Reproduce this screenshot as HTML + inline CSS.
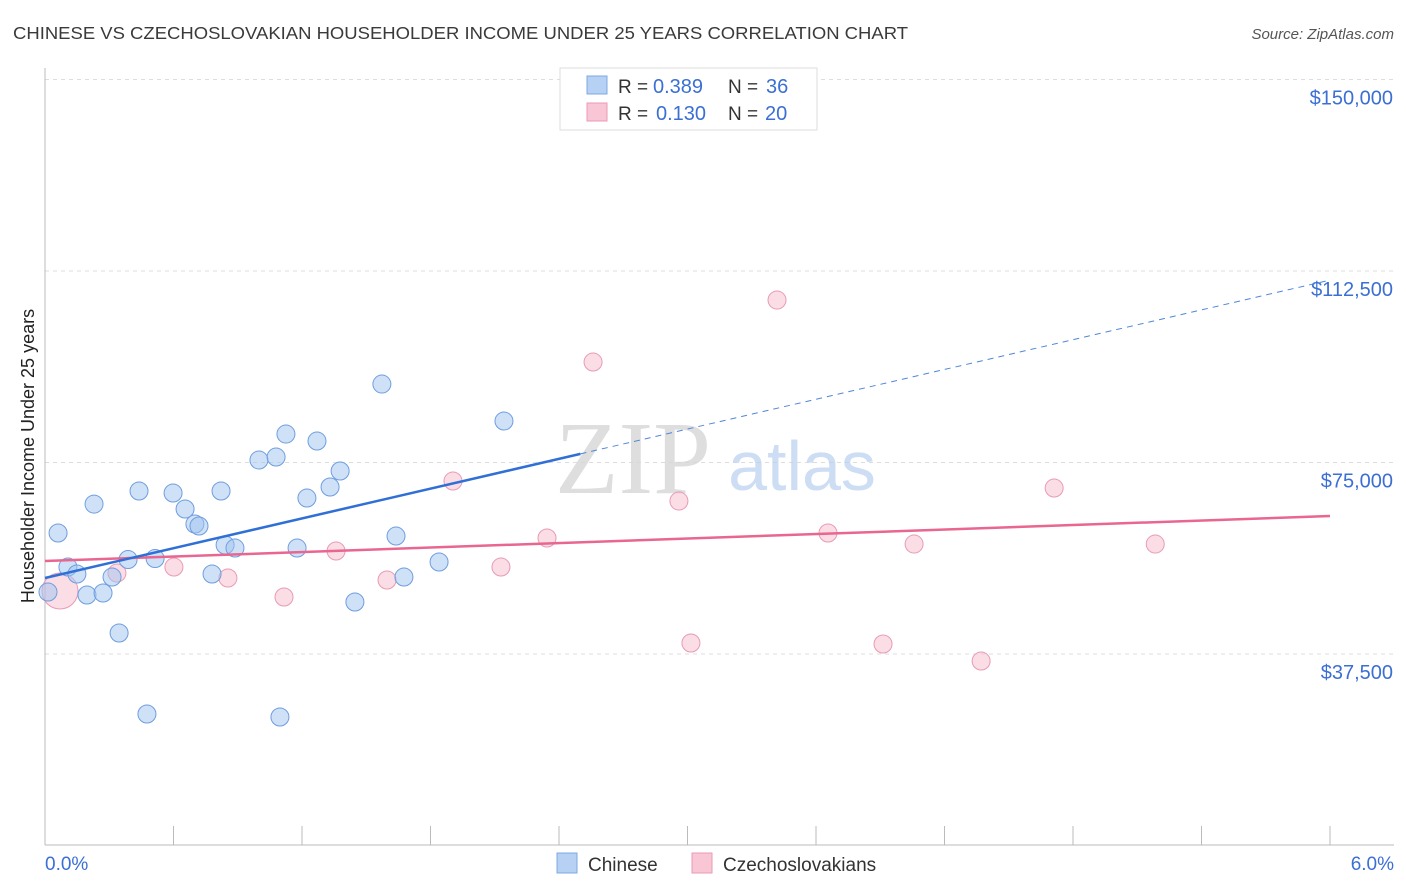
<!DOCTYPE html>
<html><head><meta charset="utf-8"><style>
body{margin:0;background:#fff;font-family:"Liberation Sans",sans-serif;}
svg{display:block}
</style></head><body>
<svg id="chart" width="1406" height="892">
<text x="13" y="39" font-size="17.5" fill="#3a3a3a" textLength="895" lengthAdjust="spacingAndGlyphs">CHINESE VS CZECHOSLOVAKIAN HOUSEHOLDER INCOME UNDER 25 YEARS CORRELATION CHART</text>
<text x="1394" y="39" font-size="15" fill="#555" font-style="italic" text-anchor="end">Source: ZipAtlas.com</text>
<g id="grid"></g>
<g>
<text x="633" y="493" font-size="104" fill="#d6d6d6" font-family="Liberation Serif,serif" text-anchor="middle" opacity="0.8">ZIP</text>
<text x="802" y="490" font-size="70" fill="#b8cfee" text-anchor="middle" opacity="0.7">atlas</text>
</g>
<g id="axes"></g>
<g id="marks"></g>
<g>
<rect x="560" y="68" width="257" height="62" fill="#fff" stroke="#ddd"/>
<rect x="587" y="76" width="20" height="18" fill="#b6d1f3" stroke="#7fa8e0"/>
<text x="618" y="93" font-size="19" fill="#333">R =</text>
<text x="653" y="93" font-size="20" fill="#3b6fd4">0.389</text>
<text x="728" y="93" font-size="19" fill="#333">N =</text>
<text x="766" y="93" font-size="20" fill="#3b6fd4">36</text>
<rect x="587" y="103" width="20" height="18" fill="#f8c6d5" stroke="#eb9ab5"/>
<text x="618" y="120" font-size="19" fill="#333">R =</text>
<text x="656" y="120" font-size="20" fill="#3b6fd4">0.130</text>
<text x="728" y="120" font-size="19" fill="#333">N =</text>
<text x="765" y="120" font-size="20" fill="#3b6fd4">20</text>
</g>
<g>
<rect x="557" y="853" width="20" height="20" fill="#b6d1f3" stroke="#7fa8e0"/>
<text x="588" y="871" font-size="19" fill="#333">Chinese</text>
<rect x="692" y="853" width="20" height="20" fill="#f8c6d5" stroke="#eb9ab5"/>
<text x="723" y="871" font-size="19" fill="#333">Czechoslovakians</text>
</g>
<text x="34" y="456" font-size="18" fill="#222" text-anchor="middle" transform="rotate(-90 34 456)">Householder Income Under 25 years</text>
</svg>
<script>
const yTicks=[37500,75000,112500,150000];
const yTickLabels=["$37,500","$75,000","$112,500","$150,000"];
const xTickLabels=["0.0%","6.0%"];
const chineseX=[0.014,0.061,0.107,0.149,0.196,0.229,0.271,0.313,0.346,0.388,0.439,0.476,0.514,0.598,0.654,0.700,0.719,0.780,0.822,0.841,0.887,0.999,1.079,1.125,1.177,1.097,1.223,1.270,1.331,1.378,1.447,1.573,1.639,1.676,1.840,2.143];
const chineseY=[49640,61190,54530,53160,49050,66860,49440,52570,41610,56010,69420,25750,56200,69020,65890,62950,62560,53160,69420,58840,58250,75480,76070,80570,58250,25160,68040,79200,70200,73330,47680,90360,60600,52570,55510,83120];
const czechX=[0.070,0.336,0.602,0.854,1.116,1.359,1.597,1.905,2.129,2.344,2.559,2.960,3.016,3.418,3.656,3.913,4.058,4.371,4.712,5.184];
const czechY=[49830,53350,54530,52380,48660,57670,51990,71370,54530,60210,94670,67450,39650,106810,61190,39460,59030,36120,70000,59030];
const czechR=[18,9,9,9,9,9,9,9,9,9,9,9,9,9,9,9,9,9,9,9];
const chineseTrend=[52380,9723];
const czechTrend=[55700,1470];
const trendSolidEnd=2.5;

const X0=45,X1=1330,Y0=845.5,PXPER=191.5/37500;
const sx=v=>X0+(v/6)*(X1-X0);
const sy=v=>Y0-v*PXPER;
const NS="http://www.w3.org/2000/svg";
function mk(tag,attrs,parent){const e=document.createElementNS(NS,tag);for(const k in attrs)e.setAttribute(k,attrs[k]);parent.appendChild(e);return e;}
const grid=document.getElementById('grid'),axes=document.getElementById('axes'),marks=document.getElementById('marks');
yTicks.forEach((t,i)=>{
  const l=mk('line',{x1:X0,x2:1394,y1:sy(t),y2:sy(t),stroke:'#ddd','stroke-dasharray':'4,4'},grid);
  
  
  const tx=mk('text',{x:1393,y:sy(t)+25,'font-size':20,fill:'#3b6fd4','text-anchor':'end'},axes);
  tx.textContent=yTickLabels[i];
  
  
});
const ax=mk('line',{x1:X0,x2:1394,y1:845,y2:845,stroke:'#bbb'},axes);


const ay=mk('line',{x1:X0,x2:X0,y1:68,y2:845,stroke:'#bbb'},axes);


for(let i=0;i<=10;i++){
  const t=mk('line',{x1:sx(i*0.6),x2:sx(i*0.6),y1:826,y2:845,stroke:'#bbb'},axes);
  
  
}
const xl0=mk('text',{x:45,y:870,'font-size':19,fill:'#3b6fd4'},axes);xl0.textContent=xTickLabels[0];


const xl1=mk('text',{x:1394,y:870,'font-size':19,fill:'#3b6fd4','text-anchor':'end'},axes);xl1.textContent=xTickLabels[1];



czechX.forEach((x,i)=>{
  const c=mk('circle',{cx:sx(x),cy:sy(czechY[i]),r:czechR[i],fill:'rgba(246,180,200,0.45)',stroke:'#e99ab4','stroke-width':1},marks);
  
  
});
chineseX.forEach((x,i)=>{
  const c=mk('circle',{cx:sx(x),cy:sy(chineseY[i]),r:9,fill:'rgba(160,195,240,0.5)',stroke:'#6e9de0','stroke-width':1},marks);
  
  
});
const ct=v=>czechTrend[0]+czechTrend[1]*v, bt=v=>chineseTrend[0]+chineseTrend[1]*v;
const pl=mk('line',{x1:sx(0),y1:sy(ct(0)),x2:sx(6),y2:sy(ct(6)),stroke:'#e8668f','stroke-width':2.5},marks);


const bl=mk('line',{x1:sx(0),y1:sy(bt(0)),x2:sx(trendSolidEnd),y2:sy(bt(trendSolidEnd)),stroke:'#2f6fd6','stroke-width':2.5},marks);


const bd=mk('line',{x1:sx(trendSolidEnd),y1:sy(bt(trendSolidEnd)),x2:sx(6),y2:sy(bt(6)),stroke:'#4f86db','stroke-width':1,'stroke-dasharray':'6,5'},marks);


</script>
</body></html>
